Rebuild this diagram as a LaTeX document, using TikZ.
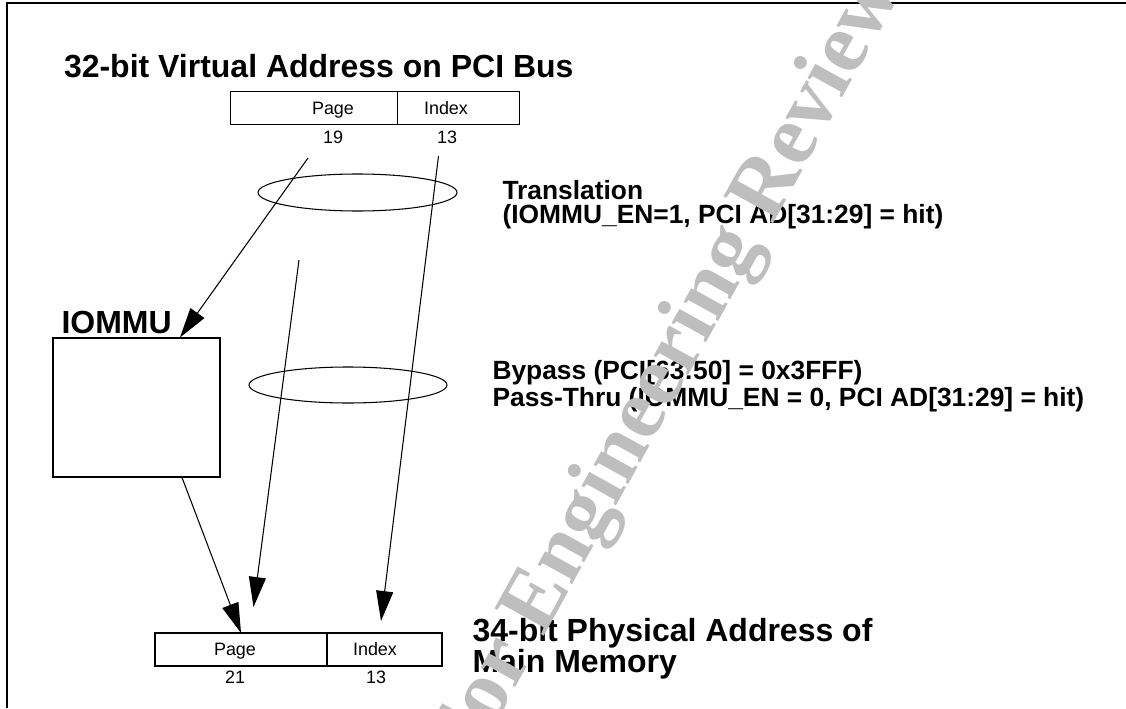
\documentclass[tikz,border=0pt]{standalone}
\usepackage{fontspec}
\setmainfont{Liberation Sans}
\newfontfamily\markfont{Liberation Serif}
\usepackage{xcolor}
\usepackage{tikz}
\usetikzlibrary{arrows.meta,positioning,shapes.geometric}
\definecolor{ioInk}{HTML}{000000}
\definecolor{ioMark}{HTML}{BEBEBE}
\tikzset{
  io diagram/.style={text=ioInk, line width=0.6pt, line join=miter},
  io field/.style={draw=ioInk, minimum height=0.65cm, inner sep=0pt, outer sep=0pt},
  io unit/.style={draw=ioInk, minimum width=3.34cm, minimum height=2.78cm, inner sep=0pt},
  io ring/.style={draw=ioInk, ellipse, inner sep=0pt},
  io arrow/.style={-{Triangle[length=0.6cm,width=0.34cm]}, draw=ioInk},
  io title/.style={font=\fontsize{18.2}{17.1}\selectfont\bfseries, anchor=base west,
    inner sep=0pt, align=left},
  io note/.style={font=\fontsize{15}{13.4}\selectfont\bfseries, anchor=base west,
    inner sep=0pt, align=left},
  io small/.style={font=\fontsize{10.2}{12}\selectfont, anchor=base, inner sep=0pt},
  io watermark/.style={font=\fontsize{49}{52}\selectfont\markfont\bfseries,
    text=ioMark, rotate=61, anchor=base, inner sep=0pt}
}
\begin{document}
\begin{tikzpicture}[io diagram]
\useasboundingbox (0,0) rectangle (22.52,14.16);
\draw[line width=0.8pt] (0.14,0) |- (22.52,14.10);
% virtual address
\node[io title] (vtitle) at (1.27,12.60) {32-bit Virtual Address on PCI Bus};
\node[io field, minimum width=3.33cm] (vpage) at (6.28,12.00) {};
\node[io field, minimum width=2.45cm, right=0pt of vpage] (vindex) {};
\node[io small] (vpagetxt) at (6.66,11.88) {Page};
\node[io small] (vindextxt) at (8.92,11.88) {Index};
\node[io small] (vpagebits) at (6.66,11.30) {19};
\node[io small] (vindexbits) at (8.94,11.30) {13};
% iommu
\node[io title] (mmutitle) at (1.22,7.50) {IOMMU};
\node[io unit] (mmu) at (2.73,6.01) {};
% the two paths
\node[io ring, minimum width=3.98cm, minimum height=0.74cm] (xlate) at (7.15,10.31) {};
\node[io ring, minimum width=3.96cm, minimum height=0.72cm] (bypass) at (6.96,6.46) {};
\node[io note] (xlatetxt) at (10.04,9.70) {Translation\\(IOMMU\_EN=1, PCI AD[31:29] = hit)};
\node[io note] (bypasstxt) at (9.84,6.04) {Bypass (PCI[63:50] = 0x3FFF)\\Pass-Thru (IOMMU\_EN = 0, PCI AD[31:29] = hit)};
% physical address
\node[io field, minimum width=3.44cm, minimum height=0.66cm] (ppage) at (4.82,1.17) {};
\node[io field, minimum width=2.30cm, minimum height=0.66cm, right=0pt of ppage] (pindex) {};
\node[io small] (ppagetxt) at (4.70,1.06) {Page};
\node[io small] (pindextxt) at (7.50,1.06) {Index};
\node[io small] (ppagebits) at (4.70,0.50) {21};
\node[io small] (pindexbits) at (7.52,0.50) {13};
\node[io title] (ptitle) at (9.44,0.72) {34-bit Physical Address of\\Main Memory};
% arrows
\coordinate (pagefrom) at (6.16,11.00);
\coordinate (passfrom) at (5.98,8.96);
\coordinate (passto) at (5.07,2.02);
\coordinate (indexfrom) at (8.77,11.04);
\coordinate (indexto) at (7.62,1.74);
\draw[io arrow] (pagefrom) -- ([xshift=0.87cm]mmu.north);
\draw[io arrow] (passfrom) -- (passto);
\draw[io arrow] (indexfrom) -- (indexto);
\draw[io arrow] ([xshift=0.91cm]mmu.south) -- (ppage.north);
% watermark
\node[io watermark] (mark) at (13.70,6.52) {For Engineering Review};
\end{tikzpicture}
\end{document}
